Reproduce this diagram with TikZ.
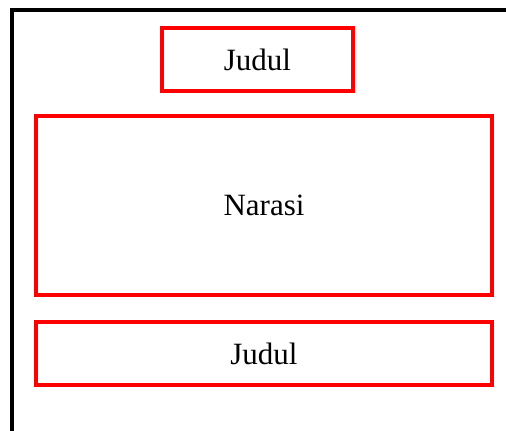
\documentclass[tikz,border=0pt]{standalone}
\usepackage{fontspec}
\setmainfont{Liberation Serif}
\usepackage{xcolor}
\usepackage{tikz}
\usetikzlibrary{positioning}

\tikzset{kotak/.style={draw=red, line width=2pt, inner sep=0pt,
  font=\fontsize{15.5}{18}\selectfont}}

\begin{document}
\begin{tikzpicture}[x=0.5pt, y=-0.5pt]
\useasboundingbox (0,0) rectangle (506,431);
% bingkai halaman
\draw[line width=2pt, black] (12,440) -- (12,10) -- (520,10);%
\node[kotak, minimum width=95.5pt, minimum height=31.5pt] (judulatas) at (257.5,59.5) {Judul};%
\node[kotak, minimum width=228pt, minimum height=89.5pt] (narasi) at (264,205.5) {Narasi};%
\node[kotak, minimum width=228pt, minimum height=31.5pt] (judulbawah) at (264,353.5) {Judul};%
\end{tikzpicture}
\end{document}
